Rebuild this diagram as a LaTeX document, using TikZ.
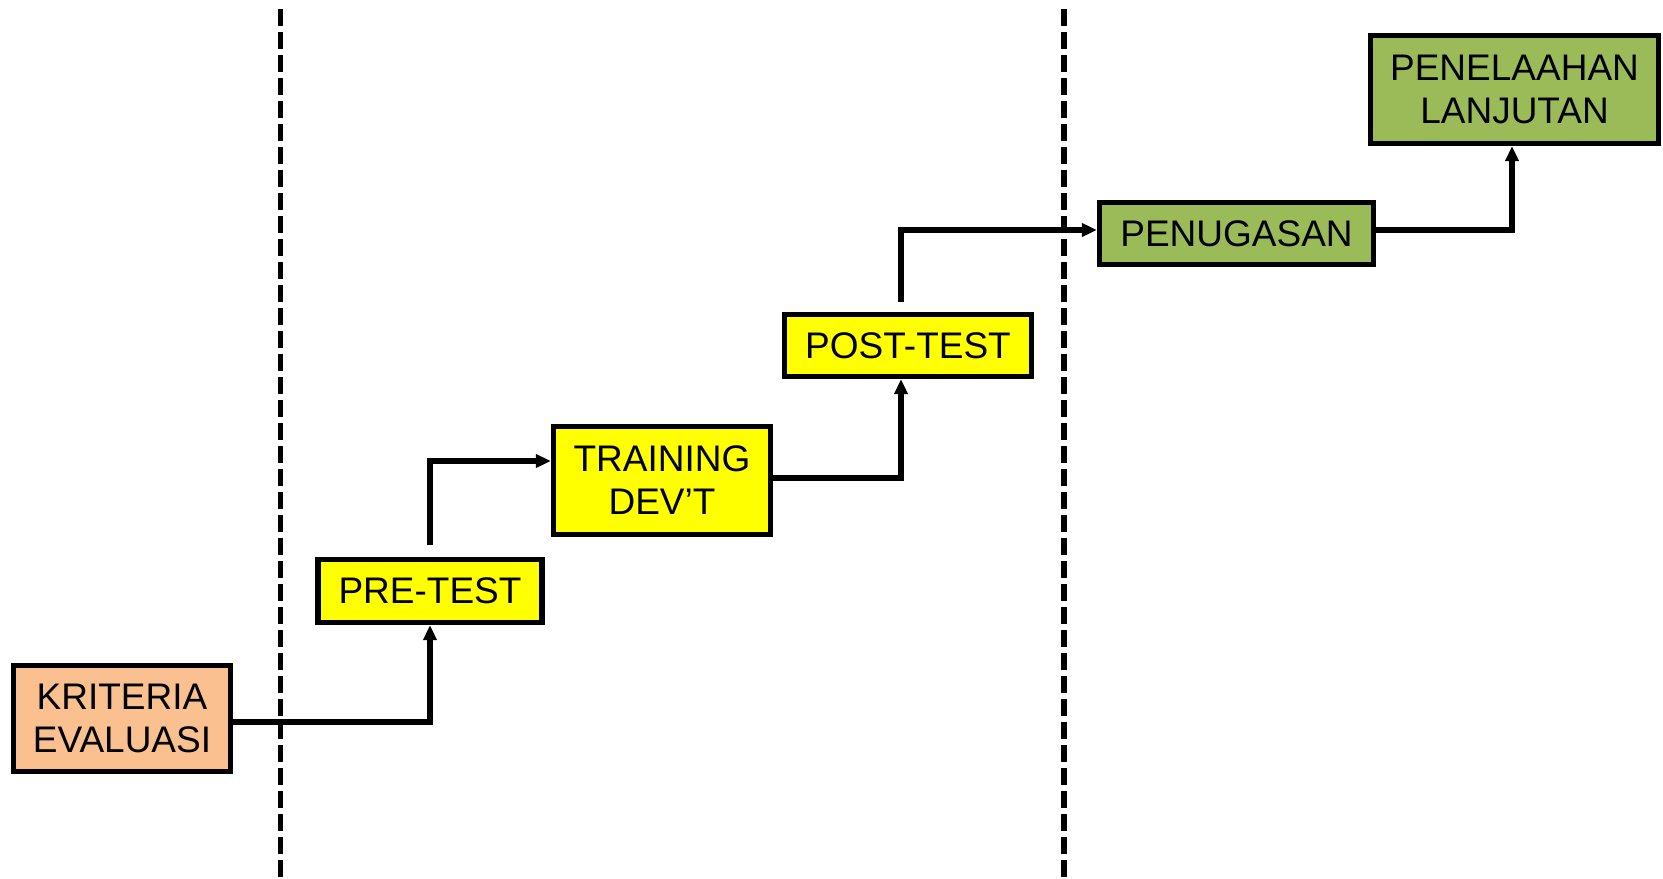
\documentclass[tikz,border=0pt]{standalone}
\usepackage{fontspec}
\setmainfont{Liberation Sans}
\usetikzlibrary{arrows.meta}
\definecolor{peach}{HTML}{FAC090}
\definecolor{yel}{HTML}{FFFF00}
\definecolor{grn}{HTML}{9BBB59}
\begin{document}
\begin{tikzpicture}[x=0.5pt,y=-0.5pt,
  box/.style={draw=black,line width=2.6pt,inner sep=0pt,align=center,
    font=\fontsize{18.5}{21.5}\selectfont},
  arr/.style={line width=2.6pt,-{Triangle[length=7.5pt,width=6.5pt]}},
  divider/.style={line width=2.9pt,dash pattern=on 8.5pt off 3pt}]
\useasboundingbox (0,0) rectangle (1663,878);
\coordinate (d1top) at (280.5,9);
\coordinate (d1bot) at (280.5,878);
\coordinate (d2top) at (1064,9);
\coordinate (d2bot) at (1064,878);
\draw[divider] (d1top) -- (d1bot);
\draw[divider] (d2top) -- (d2bot);
\node[box,fill=peach,minimum width=108.5pt,minimum height=53pt] (K) at (122,718.5) {KRITERIA\\EVALUASI};
\node[box,fill=yel,minimum width=112pt,minimum height=31.5pt] (P) at (430,591) {PRE-TEST};
\node[box,fill=yel,minimum width=108.5pt,minimum height=54pt] (T) at (662,480.5) {TRAINING\\DEV’T};
\node[box,fill=yel,minimum width=123.5pt,minimum height=31pt] (PO) at (908,345.5) {POST-TEST};
\node[box,fill=grn,minimum width=137pt,minimum height=31pt] (PU) at (1236.5,233.5) {PENUGASAN};
\node[box,fill=grn,minimum width=144pt,minimum height=54pt] (PL) at (1514.5,89.5) {PENELAAHAN\\LANJUTAN};
\draw[arr] ([yshift=-1.75pt]K.east) -| (P.south);
\draw[arr] ([yshift=6pt]P.north) |- ([yshift=9.75pt]T.west);
\draw[arr] ([yshift=1.25pt]T.east) -| ([xshift=-3.5pt]PO.south);
\draw[arr] ([xshift=-3.5pt,yshift=5pt]PO.north) |- ([yshift=1.75pt]PU.west);
\draw[arr] ([yshift=1.75pt]PU.east) -| ([xshift=-1.25pt]PL.south);
\end{tikzpicture}
\end{document}
